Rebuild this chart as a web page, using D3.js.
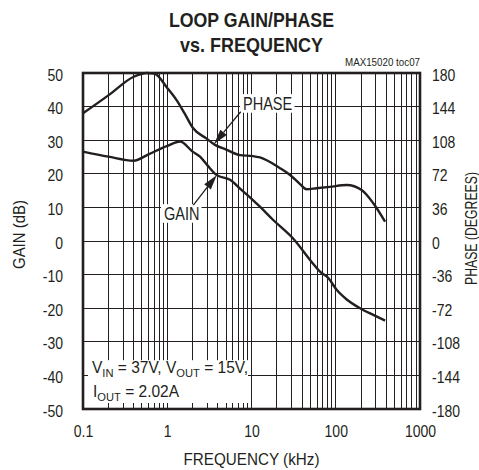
<!DOCTYPE html>
<html><head><meta charset="utf-8">
<script src="https://cdn.jsdelivr.net/npm/d3@7"></script>
<style>
body{margin:0;background:#fff}
text{font-family:"Liberation Sans",Arial,Helvetica,sans-serif}
</style>
</head><body>
<svg id="c" width="479" height="470"></svg>
<script>
// ---- data ----
const gainFreq = [0.1,0.2,0.4,0.6,1.0,1.42,2.0,2.45,3.0,3.87,5.56,7.6,10.4,12.6,18.1,31,52,65,82,103,135,194,279,385];
const gainDb   = [26.6,25.1,23.9,25.8,28.3,29.6,26.6,25.1,22.5,19.6,18.2,15.2,12.2,10.2,6.25,0.8,-6.3,-9.1,-11.1,-14.6,-17.4,-20,-22,-23.7];
const phaseFreq = [0.1,0.2,0.4,0.57,0.7,1.0,1.29,1.6,2.02,2.9,3.69,5.0,7.3,10.4,12.6,21.8,28.7,37.7,45,59,85,135,203,279,385];
const phaseDeg  = [136.8,156,176,180,179.5,164,151,137,121,110,103,98,92,91,89.5,78,70.7,61,55.4,56.5,58,60,54.6,40.4,20.7];
const freqTicks = [0.1,1,10,100,1000];
const freqTickLabels = ["0.1","1","10","100","1000"];
const gainTicks = [50,40,30,20,10,0,-10,-20,-30,-40,-50];
const phaseTicks = [180,144,108,72,36,0,-36,-72,-108,-144,-180];
const titleLines = ["LOOP GAIN/PHASE","vs. FREQUENCY"];
const xTitle = "FREQUENCY (kHz)";
const yLeftTitle = "GAIN (dB)";
const yRightTitle = "PHASE (DEGREES)";
const noteText = "MAX15020 toc07";
// annotation anchors in data units
const phaseLabel = {f:7.93, v:140.4, text:"PHASE"};
const phaseArrow = {f0:7.45, v0:138.5, f1:3.59, v1:104};
const gainLabel = {f:0.915, v:6.25, text:"GAIN"};
const gainArrow = {f0:2.04, v0:10.7, f1:3.87, v1:19.6};

// ---- layout ----
const L=83, R=420, T=73, B=409;
const ink="#231f20";
const svg=d3.select("#c");
const x=d3.scaleLog().domain([0.1,1000]).range([L,R]);
const yG=d3.scaleLinear().domain([-50,50]).range([B,T]);
const yP=d3.scaleLinear().domain([-180,180]).range([B,T]);

// grid
const vGrid=[];
for(let k=-1;k<=2;k++) for(let d=1;d<=9;d++) vGrid.push(d*Math.pow(10,k));
vGrid.push(1000);
const grid=svg.append("g").attr("stroke",ink).attr("stroke-width",1).attr("shape-rendering","crispEdges");
grid.selectAll("line.v").data(vGrid).join("line").attr("class","v")
  .attr("x1",d=>x(d)).attr("x2",d=>x(d)).attr("y1",T).attr("y2",B);
grid.selectAll("line.h").data(gainTicks).join("line").attr("class","h")
  .attr("x1",L).attr("x2",R).attr("y1",d=>yG(d)).attr("y2",d=>yG(d));

// curves
const line=d3.line().curve(d3.curveMonotoneX);
const gainPts=gainFreq.map((f,i)=>[x(f),yG(gainDb[i])]);
const phasePts=phaseFreq.map((f,i)=>[x(f),yP(phaseDeg[i])]);
svg.append("path").attr("d",line(gainPts)).attr("fill","none").attr("stroke",ink).attr("stroke-width",2.4).attr("stroke-linejoin","round");
svg.append("path").attr("d",line(phasePts)).attr("fill","none").attr("stroke",ink).attr("stroke-width",2.4).attr("stroke-linejoin","round");

// labelled boxes
function boxedLabel(lbl, yScale){
  const g=svg.append("g");
  g.append("text").attr("transform",`translate(${x(lbl.f)},${yScale(lbl.v)}) scale(0.83,1)`)
    .attr("font-size",17.5).attr("fill",ink).text(lbl.text);
  const bb=g.node().getBBox();
  g.insert("rect","text").attr("x",bb.x-3).attr("y",bb.y+0.5).attr("width",bb.width+5).attr("height",bb.height-1).attr("fill","#fff");
}
boxedLabel(phaseLabel,yP);
boxedLabel(gainLabel,yG);

function arrow(a,yScale){
  const x0=x(a.f0), y0=yScale(a.v0), x1=x(a.f1), y1=yScale(a.v1);
  const dx=x1-x0, dy=y1-y0, len=Math.hypot(dx,dy), ux=dx/len, uy=dy/len;
  const hl=15, hw=4.2;
  const bx=x1-ux*hl, by=y1-uy*hl;
  svg.append("line").attr("x1",x0).attr("y1",y0).attr("x2",bx).attr("y2",by).attr("stroke",ink).attr("stroke-width",1.3);
  svg.append("polygon").attr("points",[[x1,y1],[bx-uy*hw,by+ux*hw],[bx+uy*hw,by-ux*hw]].map(p=>p.join(",")).join(" ")).attr("fill",ink);
}
arrow(phaseArrow,yP);
arrow(gainArrow,yG);

// conditions box
const cg=svg.append("g");
const t1=cg.append("text").attr("transform",`translate(${x(0.1)+9},${yG(-40)-2}) scale(0.97,1)`).attr("font-size",16).attr("fill",ink);
t1.append("tspan").text("V");
t1.append("tspan").attr("font-size",11.5).attr("dy",3.4).text("IN");
t1.append("tspan").attr("dy",-3.4).text(" = 37V, V");
t1.append("tspan").attr("font-size",11.5).attr("dy",3.4).text("OUT");
t1.append("tspan").attr("dy",-3.4).text(" = 15V,");
const t2=cg.append("text").attr("transform",`translate(${x(0.1)+10},${yG(-40)+22}) scale(0.97,1)`).attr("font-size",16).attr("fill",ink);
t2.append("tspan").text("I");
t2.append("tspan").attr("font-size",11.5).attr("dy",3.4).text("OUT");
t2.append("tspan").attr("dy",-3.4).text(" = 2.02A");
const cbb=cg.node().getBBox();
cg.insert("rect","text").attr("x",L+1).attr("y",cbb.y+1).attr("width",cbb.x+cbb.width-1-L).attr("height",B-cbb.y-1).attr("fill","#fff");

// inner ticks (visible through boxes)
const tk=svg.append("g").attr("stroke",ink).attr("stroke-width",1).attr("shape-rendering","crispEdges");
tk.selectAll("line.b").data(vGrid).join("line").attr("class","b").attr("x1",d=>x(d)).attr("x2",d=>x(d)).attr("y1",B).attr("y2",B-6);
tk.selectAll("line.l").data(gainTicks).join("line").attr("class","l").attr("x1",L).attr("x2",L+5).attr("y1",d=>yG(d)).attr("y2",d=>yG(d));

// frame
svg.append("rect").attr("x",L).attr("y",T).attr("width",R-L).attr("height",B-T).attr("fill","none").attr("stroke",ink).attr("stroke-width",2.6);

// axes (labels only)
const sx=0.875;
const fmt=d=>String(d);
function styleAxis(g){ g.select(".domain").remove(); g.selectAll("line").remove(); g.attr("color",ink);
  g.selectAll("text").attr("font-size",16).attr("font-family",'"Liberation Sans",Arial,sans-serif'); }
const axL=svg.append("g").attr("transform",`translate(${L},0)`)
  .call(d3.axisLeft(yG).tickValues(gainTicks).tickSize(0).tickFormat(fmt));
styleAxis(axL); axL.selectAll("text").attr("transform",`scale(${sx},1)`).attr("x",-20/sx).attr("dy","0.44em");
const axR=svg.append("g").attr("transform",`translate(${R},0)`)
  .call(d3.axisRight(yP).tickValues(phaseTicks).tickSize(0).tickFormat(fmt));
styleAxis(axR); axR.selectAll("text").attr("transform",`scale(${sx},1)`).attr("x",12/sx).attr("dy","0.44em");
const axB=svg.append("g").attr("transform",`translate(0,${B})`)
  .call(d3.axisBottom(x).tickValues(freqTicks).tickSize(0).tickFormat((d,i)=>freqTickLabels[i]));
styleAxis(axB); axB.selectAll("text").attr("transform",`scale(${sx},1)`).attr("y",17.1).attr("dy","0.71em");

// titles
const cx=(L+R)/2;
svg.append("text").attr("x",cx).attr("y",26.5).attr("text-anchor","middle").attr("font-size",21).attr("font-weight","bold").attr("fill",ink)
  .attr("textLength",165).attr("lengthAdjust","spacingAndGlyphs").text(titleLines[0]);
svg.append("text").attr("x",cx).attr("y",51.5).attr("text-anchor","middle").attr("font-size",21).attr("font-weight","bold").attr("fill",ink)
  .attr("textLength",143).attr("lengthAdjust","spacingAndGlyphs").text(titleLines[1]);
svg.append("text").attr("x",R).attr("y",66).attr("text-anchor","end").attr("font-size",10).attr("fill",ink)
  .attr("textLength",75).attr("lengthAdjust","spacingAndGlyphs").text(noteText);
svg.append("text").attr("x",cx).attr("y",465).attr("text-anchor","middle").attr("font-size",16.5).attr("fill",ink)
  .attr("textLength",136).attr("lengthAdjust","spacingAndGlyphs").text(xTitle);
svg.append("text").attr("transform",`translate(25,234.5) rotate(-90)`).attr("text-anchor","middle").attr("font-size",16.3).attr("fill",ink)
  .attr("textLength",69).attr("lengthAdjust","spacingAndGlyphs").text(yLeftTitle);
svg.append("text").attr("transform",`translate(476.5,228.5) rotate(-90)`).attr("text-anchor","middle").attr("font-size",16.3).attr("fill",ink)
  .attr("textLength",113).attr("lengthAdjust","spacingAndGlyphs").text(yRightTitle);
</script>
</body></html>
